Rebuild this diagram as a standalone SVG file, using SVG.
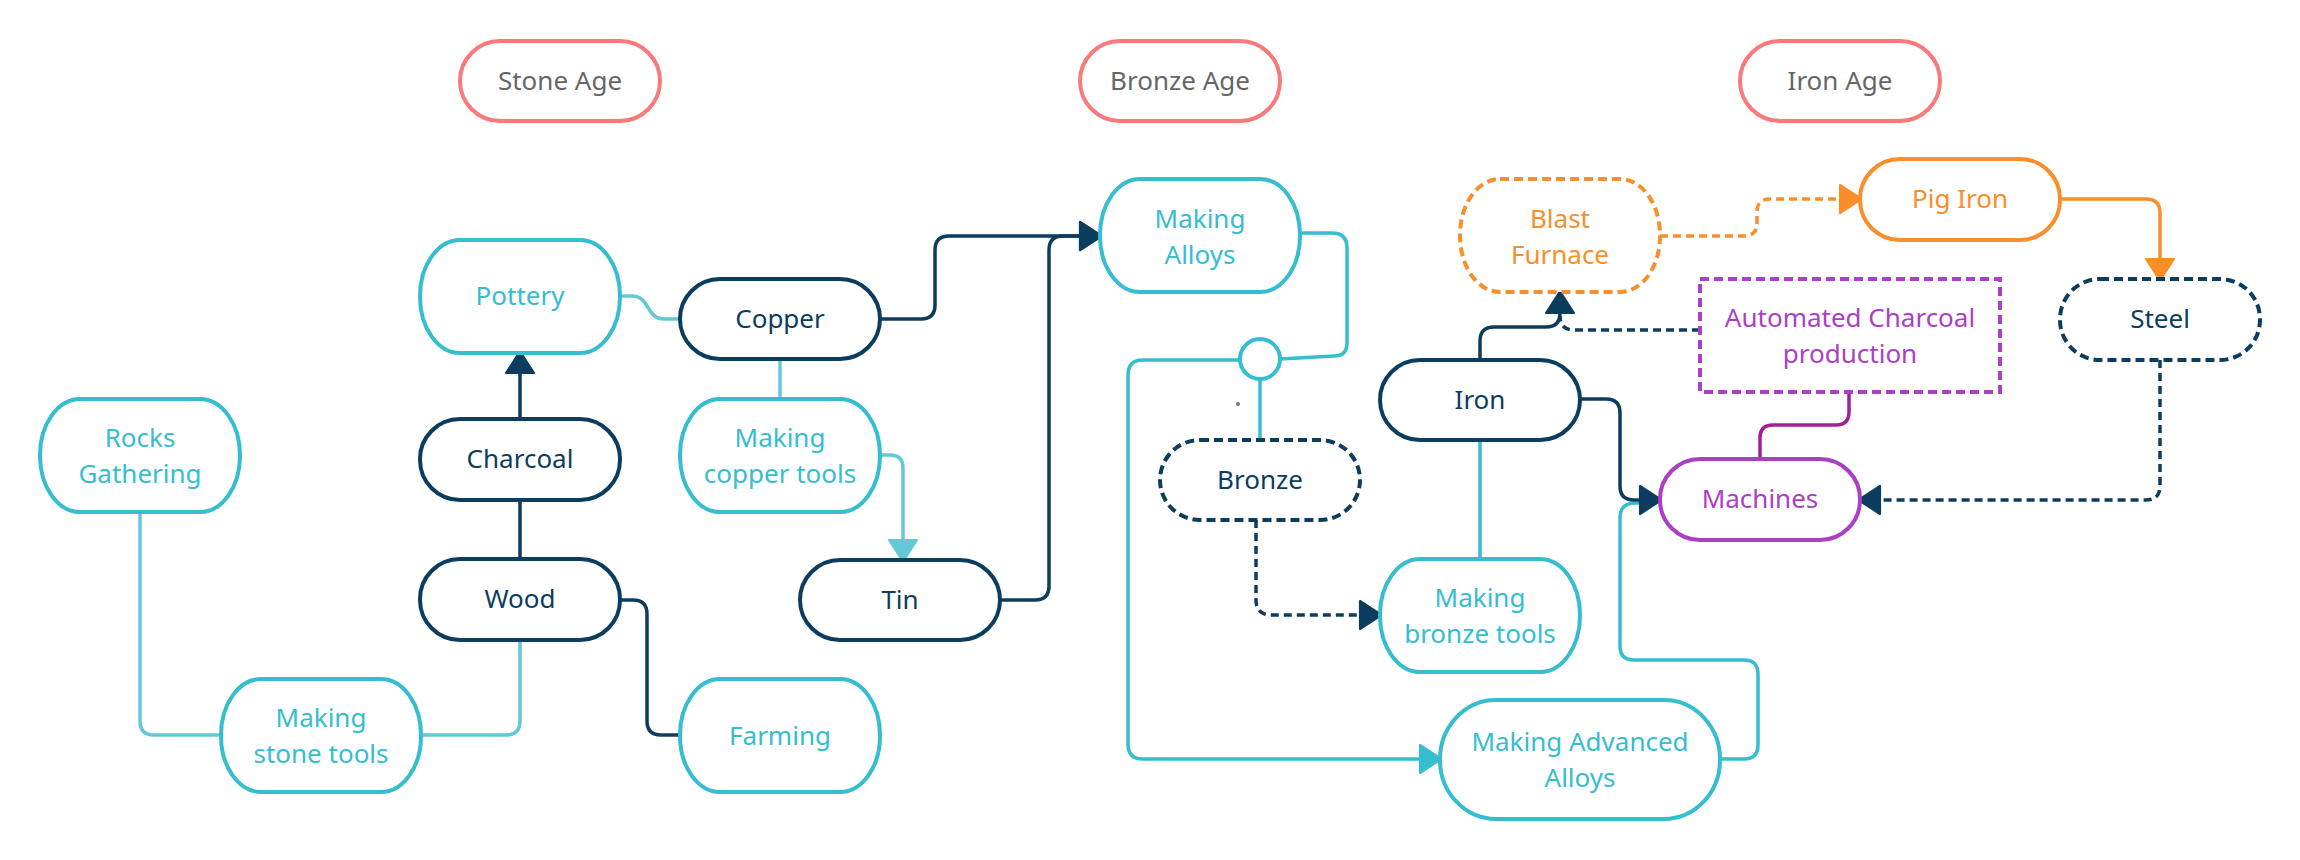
<svg xmlns="http://www.w3.org/2000/svg" width="2300" height="860" viewBox="0 0 2300 860">
<defs>
<style>
.n{fill:#fff;stroke-width:4}
.age{stroke:#f87a7a}
.dk{stroke:#0c3d5e}
.tl{stroke:#36bdd0}
.or{stroke:#f98e2b}
.pu{stroke:#ab3fc6}
.dash{stroke-dasharray:9 5}
text{font-family:"Noto Sans","Open Sans","DejaVu Sans",sans-serif;font-size:26px;text-anchor:middle}
.tage{fill:#666}
.tdk{fill:#0c3d5e}
.ttl{fill:#36bdd0}
.tor{fill:#f98e2b}
.tpu{fill:#ab3fc6}
.c{fill:none;stroke-width:3.5}
.cdk{stroke:#0c3d5e}
.ctl{stroke:#36bdd0}
.clt{stroke:#64c9d7}
.cor{stroke:#f98e2b}
.cmg{stroke:#a31f98}
.cd{stroke-dasharray:8 5}
</style>
<marker id="aDk" markerUnits="userSpaceOnUse" markerWidth="22" markerHeight="28" viewBox="0 0 20 26" refX="0" refY="13" orient="auto" overflow="visible"><path d="M0,0 L20,13 L0,26 Z" fill="#0c3d5e" stroke="#0c3d5e" stroke-width="2" stroke-linejoin="round"/></marker>
<marker id="aTl" markerUnits="userSpaceOnUse" markerWidth="22" markerHeight="28" viewBox="0 0 20 26" refX="0" refY="13" orient="auto" overflow="visible"><path d="M0,0 L20,13 L0,26 Z" fill="#36bdd0" stroke="#36bdd0" stroke-width="2" stroke-linejoin="round"/></marker>
<marker id="aLt" markerUnits="userSpaceOnUse" markerWidth="22" markerHeight="28" viewBox="0 0 20 26" refX="0" refY="13" orient="auto" overflow="visible"><path d="M0,0 L20,13 L0,26 Z" fill="#64c9d7" stroke="#64c9d7" stroke-width="2" stroke-linejoin="round"/></marker>
<marker id="aOr" markerUnits="userSpaceOnUse" markerWidth="22" markerHeight="28" viewBox="0 0 20 26" refX="0" refY="13" orient="auto" overflow="visible"><path d="M0,0 L20,13 L0,26 Z" fill="#f98e2b" stroke="#f98e2b" stroke-width="2" stroke-linejoin="round"/></marker>
</defs>
<rect width="2300" height="860" fill="#fff"/>

<g id="connectors">
<path class="c cdk" d="M520,419 V373" marker-end="url(#aDk)"/>
<path class="c cdk" d="M520,559 V500"/>
<path class="c clt" d="M620,296 H632 C650,296 646,319 664,319 H680"/>
<path class="c clt" d="M780,359 V399"/>
<path class="c clt" d="M880,455 H890 Q903,455 903,468 V540" marker-end="url(#aLt)"/>
<path class="c cdk" d="M880,319 H921 Q935,319 935,305 V250 Q935,236 949,236 H1080" marker-end="url(#aDk)"/>
<path class="c cdk" d="M1000,600 H1035 Q1049,600 1049,586 V250 Q1049,236 1063,236 H1080" marker-end="url(#aDk)"/>
<path class="c cdk" d="M620,600 H633 Q647,600 647,614 V721 Q647,735 661,735 H680"/>
<path class="c clt" d="M140,512 V721 Q140,735 154,735 H220"/>
<path class="c clt" d="M520,640 V721 Q520,735 506,735 H421"/>
<path class="c ctl" d="M1300,233 H1332 Q1347,233 1347,248 V343 Q1347,356 1334,356 L1280,359"/>
<path class="c ctl" d="M1260,380 V440"/>
<path class="c ctl" d="M1240,360 H1143 Q1128,360 1128,375 V744 Q1128,759 1143,759 H1420" marker-end="url(#aTl)"/>
<path class="c cdk cd" d="M1256,520 V600 Q1256,615 1271,615 H1360" marker-end="url(#aDk)"/>
<path class="c ctl" d="M1480,440 V559"/>
<path class="c cdk cd" d="M1700,330 H1574 Q1560,330 1560,316"/>
<path class="c cdk" d="M1480,360 V341 Q1480,327 1494,327 H1546 Q1560,327 1560,313" marker-end="url(#aDk)"/>
<path class="c cor cd" d="M1660,236 H1744 Q1757,236 1757,223 V212 Q1757,199 1770,199 H1840" marker-end="url(#aOr)"/>
<path class="c cor" d="M2060,199 H2146 Q2160,199 2160,213 V259" marker-end="url(#aOr)"/>
<path class="c cmg" d="M1849,392 V412 Q1849,425 1836,425 H1773 Q1760,425 1760,438 V459"/>
<path class="c ctl" d="M1720,759 H1744 Q1758,759 1758,745 V674 Q1758,660 1744,660 H1634 Q1620,660 1620,646 V518 Q1620,503 1635,503 H1650"/>
<path class="c cdk" d="M1580,399 H1606 Q1620,399 1620,413 V486 Q1620,500 1634,500 H1640" marker-end="url(#aDk)"/>
<path class="c cdk cd" d="M2160,360 V486 Q2160,500 2146,500 H1880" marker-end="url(#aDk)"/>
</g>

<g id="stone-age"><rect class="n age" x="460" y="41" width="200" height="80" rx="40" ry="40"/><text class="tage" x="560" y="90">Stone Age</text></g>
<g id="bronze-age"><rect class="n age" x="1080" y="41" width="200" height="80" rx="40" ry="40"/><text class="tage" x="1180" y="90">Bronze Age</text></g>
<g id="iron-age"><rect class="n age" x="1740" y="41" width="200" height="80" rx="40" ry="40"/><text class="tage" x="1840" y="90">Iron Age</text></g>

<g id="pottery"><rect class="n tl" x="420" y="240" width="200" height="113" rx="40" ry="56"/><text class="ttl" x="520" y="305">Pottery</text></g>
<g id="copper"><rect class="n dk" x="680" y="279" width="200" height="80" rx="40" ry="40"/><text class="tdk" x="780" y="328">Copper</text></g>
<g id="making-copper-tools"><rect class="n tl" x="680" y="399" width="200" height="113" rx="40" ry="56"/><text class="ttl" x="780" y="447">Making</text><text class="ttl" x="780" y="483">copper tools</text></g>
<g id="tin"><rect class="n dk" x="800" y="560" width="200" height="80" rx="40" ry="40"/><text class="tdk" x="900" y="609">Tin</text></g>
<g id="making-alloys"><rect class="n tl" x="1100" y="179" width="200" height="113" rx="40" ry="56"/><text class="ttl" x="1200" y="228">Making</text><text class="ttl" x="1200" y="264">Alloys</text></g>
<g id="rocks-gathering"><rect class="n tl" x="40" y="399" width="200" height="113" rx="40" ry="56"/><text class="ttl" x="140" y="447">Rocks</text><text class="ttl" x="140" y="483">Gathering</text></g>
<g id="charcoal"><rect class="n dk" x="420" y="419" width="200" height="81" rx="40" ry="40"/><text class="tdk" x="520" y="468">Charcoal</text></g>
<g id="wood"><rect class="n dk" x="420" y="559" width="200" height="81" rx="40" ry="40"/><text class="tdk" x="520" y="608">Wood</text></g>
<g id="making-stone-tools"><rect class="n tl" x="221" y="679" width="200" height="113" rx="40" ry="56"/><text class="ttl" x="321" y="727">Making</text><text class="ttl" x="321" y="763">stone tools</text></g>
<g id="farming"><rect class="n tl" x="680" y="679" width="200" height="113" rx="40" ry="56"/><text class="ttl" x="780" y="745">Farming</text></g>
<g id="junction"><circle cx="1260" cy="359" r="20" fill="#fff" stroke="#36bdd0" stroke-width="4"/><circle cx="1238" cy="404" r="2" fill="#777"/></g>
<g id="bronze"><rect class="n dk dash" x="1160" y="440" width="200" height="80" rx="40" ry="40"/><text class="tdk" x="1260" y="489">Bronze</text></g>
<g id="iron"><rect class="n dk" x="1380" y="360" width="200" height="80" rx="40" ry="40"/><text class="tdk" x="1480" y="409">Iron</text></g>
<g id="making-bronze-tools"><rect class="n tl" x="1380" y="559" width="200" height="113" rx="40" ry="56"/><text class="ttl" x="1480" y="607">Making</text><text class="ttl" x="1480" y="643">bronze tools</text></g>
<g id="making-advanced-alloys"><rect class="n tl" x="1440" y="700" width="280" height="119" rx="56" ry="59"/><text class="ttl" x="1580" y="751">Making Advanced</text><text class="ttl" x="1580" y="787">Alloys</text></g>
<g id="blast-furnace"><rect class="n or dash" x="1460" y="179" width="200" height="113" rx="40" ry="56"/><text class="tor" x="1560" y="228">Blast</text><text class="tor" x="1560" y="264">Furnace</text></g>
<g id="pig-iron"><rect class="n or" x="1860" y="159" width="200" height="81" rx="40" ry="40"/><text class="tor" x="1960" y="208">Pig Iron</text></g>
<g id="automated-charcoal"><rect class="n pu dash" x="1700" y="279" width="300" height="113" stroke-width="3.5"/><text class="tpu" x="1850" y="327">Automated Charcoal</text><text class="tpu" x="1850" y="363">production</text></g>
<g id="steel"><rect class="n dk dash" x="2060" y="279" width="200" height="81" rx="40" ry="40"/><text class="tdk" x="2160" y="328">Steel</text></g>
<g id="machines"><rect class="n pu" x="1660" y="459" width="200" height="81" rx="40" ry="40"/><text class="tpu" x="1760" y="508">Machines</text></g>
</svg>
